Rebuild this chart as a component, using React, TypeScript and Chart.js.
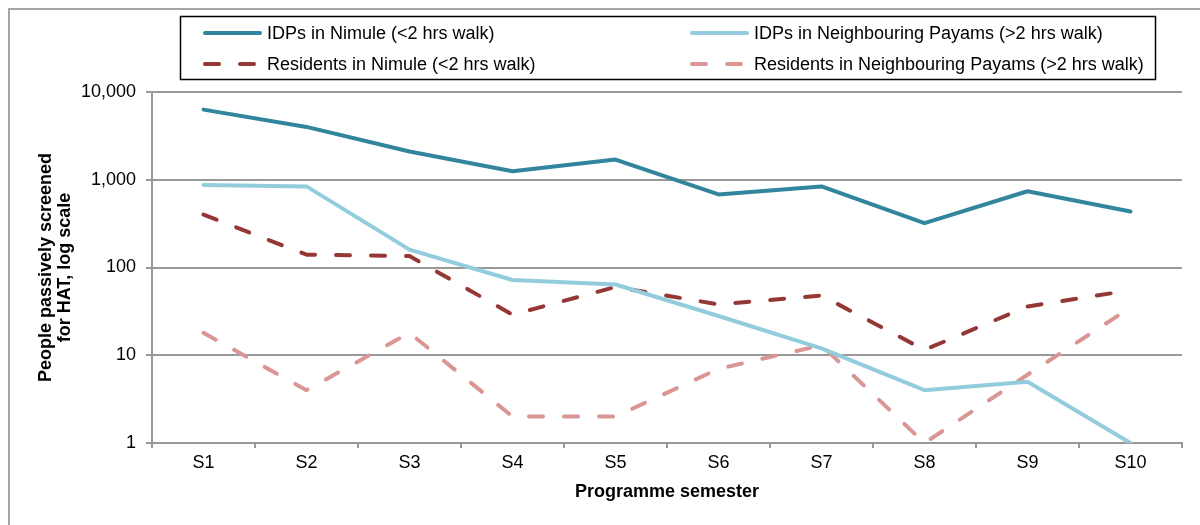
import React, { useEffect, useRef } from 'react';
import { Chart, registerables } from 'chart.js';

Chart.register(...registerables);

const FONT = '"Liberation Sans", Arial, Helvetica, sans-serif';

const categories = ['S1', 'S2', 'S3', 'S4', 'S5', 'S6', 'S7', 'S8', 'S9', 'S10'];
const idpsNimule = [6300, 4000, 2100, 1250, 1700, 680, 840, 320, 740, 435];
const idpsNeighbouring = [870, 840, 160, 72, 64, 28, 12, 4, 5, 1];
const residentsNimule = [400, 140, 135, 29, 60, 38, 48, 11.5, 36, 55];
const residentsNeighbouring = [18, 4, 18, 2, 2, 7, 13, 1, 6, 35];
const yTicks = [1, 10, 100, 1000, 10000];

const seriesLabels = [
  'IDPs in Nimule (<2 hrs walk)',
  'IDPs in Neighbouring Payams (>2 hrs walk)',
  'Residents in Nimule (<2 hrs walk)',
  'Residents in Neighbouring Payams (>2 hrs walk)',
];
const seriesColors = ['#31859C', '#93CDDD', '#953735', '#D99694'];
const yTitleLines = ['People passively screened', 'for HAT, log scale'];
const xTitle = 'Programme semester';

const DASH = [14, 21];

const decorPlugin = {
  id: 'decor',
  beforeDraw(chart: any) {
    const ctx = chart.ctx;
    ctx.save();
    ctx.fillStyle = '#ffffff';
    ctx.fillRect(0, 0, chart.width, chart.height);
    ctx.strokeStyle = '#a6a6a6';
    ctx.lineWidth = 2;
    ctx.beginPath();
    ctx.moveTo(9, chart.height + 5);
    ctx.lineTo(9, 9);
    ctx.lineTo(chart.width + 5, 9);
    ctx.stroke();
    ctx.restore();
  },
  afterDraw(chart: any) {
    const ctx = chart.ctx;
    const area = chart.chartArea;
    ctx.save();
    // legend box
    ctx.strokeStyle = '#000000';
    ctx.lineWidth = 1.5;
    ctx.strokeRect(180.5, 16.5, 975, 63);
    const datasets = chart.data.datasets;
    const slots = [
      { x: 203, y: 33 },
      { x: 690, y: 33 },
      { x: 203, y: 64 },
      { x: 690, y: 64 },
    ];
    datasets.forEach((ds: any, i: number) => {
      const s = slots[i];
      ctx.save();
      ctx.strokeStyle = ds.borderColor;
      ctx.lineWidth = ds.borderWidth;
      ctx.lineCap = 'round';
      ctx.setLineDash(ds.borderDash || []);
      ctx.beginPath();
      ctx.moveTo(s.x + 2, s.y);
      ctx.lineTo(s.x + 57, s.y);
      ctx.stroke();
      ctx.restore();
      ctx.fillStyle = '#000000';
      ctx.font = `18px ${FONT}`;
      ctx.textAlign = 'left';
      ctx.textBaseline = 'middle';
      ctx.fillText(ds.label, s.x + 64, s.y + 1);
    });
    // y title
    ctx.fillStyle = '#000000';
    ctx.font = `bold 18px ${FONT}`;
    ctx.textAlign = 'center';
    ctx.textBaseline = 'middle';
    const cy = (area.top + area.bottom) / 2;
    const xs = [46, 65];
    yTitleLines.forEach((line, i) => {
      ctx.save();
      ctx.translate(xs[i], cy);
      ctx.rotate(-Math.PI / 2);
      ctx.fillText(line, 0, 0);
      ctx.restore();
    });
    // x title
    ctx.fillText(xTitle, (area.left + area.right) / 2, 492);
    ctx.restore();
  },
};

export default function App() {
  const ref = useRef<HTMLCanvasElement | null>(null);

  useEffect(() => {
    document.body.style.margin = '0';
    document.body.style.overflow = 'hidden';
    const canvas = ref.current;
    if (!canvas) return;
    const values = [idpsNimule, idpsNeighbouring, residentsNimule, residentsNeighbouring];
    const chart = new Chart(canvas, {
      type: 'line',
      data: {
        labels: categories,
        datasets: values.map((v, i) => ({
          label: seriesLabels[i],
          data: v,
          borderColor: seriesColors[i],
          backgroundColor: seriesColors[i],
          borderWidth: 4,
          borderDash: i >= 2 ? DASH : [],
          borderCapStyle: 'round',
          borderJoinStyle: 'round',
          pointRadius: 0,
          pointHoverRadius: 0,
          tension: 0,
          fill: false,
        })) as any,
      },
      options: {
        animation: false,
        responsive: false,
        maintainAspectRatio: false,
        devicePixelRatio: 1,
        layout: { padding: { top: 92, right: 18, left: 0, bottom: 0 } },
        plugins: {
          legend: { display: false },
          tooltip: { enabled: false },
          title: { display: false },
        },
        scales: {
          x: {
            type: 'category',
            offset: true,
            grid: {
              display: true,
              drawOnChartArea: false,
              drawTicks: true,
              tickLength: 5,
              offset: true,
              color: '#999999',
              lineWidth: 2,
            },
            border: { display: true, color: '#999999', width: 2 },
            ticks: {
              color: '#000000',
              font: { family: FONT, size: 18 },
              padding: 4,
              maxRotation: 0,
              autoSkip: false,
            },
            afterFit: (s: any) => {
              s.height = 82;
            },
          },
          y: {
            type: 'logarithmic',
            min: 1,
            max: 10000,
            afterBuildTicks: (s: any) => {
              s.ticks = yTicks.map((v) => ({ value: v }));
            },
            grid: {
              color: '#999999',
              lineWidth: 2,
              tickLength: 6,
              drawTicks: true,
            },
            border: { display: true, color: '#999999', width: 2 },
            ticks: {
              color: '#000000',
              font: { family: FONT, size: 18 },
              padding: 10,
              callback: (v: any) => Number(v).toLocaleString('en-US'),
            },
            afterFit: (s: any) => {
              s.width = 152;
            },
          },
        },
      } as any,
      plugins: [decorPlugin],
    });
    return () => chart.destroy();
  }, []);

  return (
    <div style={{ width: 1200, height: 525, position: 'relative' }}>
      <canvas ref={ref} width={1200} height={525} style={{ display: 'block', width: 1200, height: 525 }} />
    </div>
  );
}
